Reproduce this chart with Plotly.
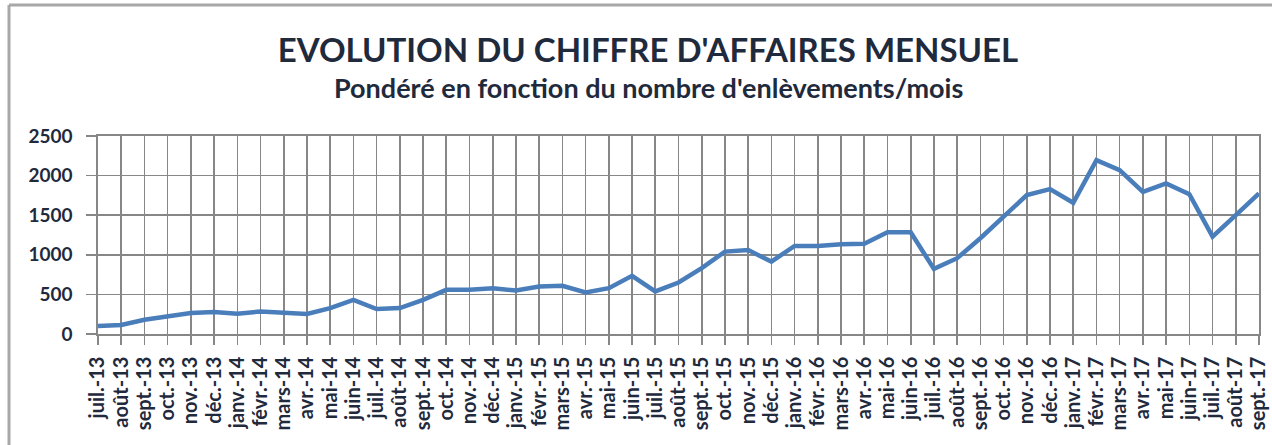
import plotly.graph_objects as go

months = ["juil.-13", "août-13", "sept.-13", "oct.-13", "nov.-13", "déc.-13",
          "janv.-14", "févr.-14", "mars-14", "avr.-14", "mai-14", "juin-14",
          "juil.-14", "août-14", "sept.-14", "oct.-14", "nov.-14", "déc.-14",
          "janv.-15", "févr.-15", "mars-15", "avr.-15", "mai-15", "juin-15",
          "juil.-15", "août-15", "sept.-15", "oct.-15", "nov.-15", "déc.-15",
          "janv.-16", "févr.-16", "mars-16", "avr.-16", "mai-16", "juin-16",
          "juil.-16", "août-16", "sept.-16", "oct.-16", "nov.-16", "déc.-16",
          "janv.-17", "févr.-17", "mars-17", "avr.-17", "mai-17", "juin-17",
          "juil.-17", "août-17", "sept.-17"]

ca_mensuel = [100, 115, 180, 222, 264, 277, 255, 285, 272, 252, 327, 432,
              315, 327, 432, 558, 558, 579, 549, 600, 608, 524, 579, 734,
              537, 650, 831, 1040, 1061, 914, 1112, 1112, 1133, 1140, 1284, 1284,
              822, 957, 1209, 1473, 1754, 1829, 1657, 2194, 2069, 1795, 1901, 1766,
              1229, 1502, 1775]

y_ticks = [0, 500, 1000, 1500, 2000, 2500]

W, H = 1272, 445
ML, MR, MT, MB = 98, 13, 136, 111
plot_w = W - ML - MR
plot_h = H - MT - MB

TXT = "#1f2a3c"
GRID = "#878787"
FONT = "Lato"

x_idx = list(range(len(months)))

fig = go.Figure()
fig.add_trace(go.Scatter(
    x=x_idx, y=ca_mensuel, mode="lines",
    line=dict(color="#4a7ebb", width=4.5),
    showlegend=False, hoverinfo="skip",
))

fig.update_layout(
    width=W, height=H,
    margin=dict(l=ML, r=MR, t=MT, b=MB, pad=0, autoexpand=False),
    paper_bgcolor="white", plot_bgcolor="white",
    font=dict(family=FONT, color=TXT),
    title=dict(
        text="<b>EVOLUTION DU CHIFFRE D'AFFAIRES MENSUEL</b>",
        x=648 / W, xref="container", xanchor="center",
        y=1 - 50 / H, yref="container", yanchor="middle",
        font=dict(family=FONT, size=33, color=TXT),
    ),
    annotations=[dict(
        text="<b>Pondéré en fonction du nombre d'enlèvements/mois</b>",
        xref="paper", yref="paper",
        x=(648 - ML) / plot_w, y=(H - MB - 87) / plot_h,
        xanchor="center", yanchor="middle", showarrow=False,
        font=dict(family=FONT, size=27, color=TXT),
    )],
    xaxis=dict(
        range=[0, len(months) - 1],
        tickmode="array", tickvals=x_idx, ticktext=months,
        tickangle=-90, automargin=False,
        showgrid=True, gridcolor=GRID, gridwidth=1.6,
        showline=True, linecolor=GRID, linewidth=1.6, mirror=True,
        ticks="outside", ticklen=9, tickcolor=GRID, tickwidth=1.6,
        tickfont=dict(family=FONT, size=20, color=TXT, weight="bold"),
        ticklabelstandoff=4,
        zeroline=False, fixedrange=True,
    ),
    yaxis=dict(
        range=[0, 2500], automargin=False,
        tickmode="array", tickvals=y_ticks,
        showgrid=True, gridcolor=GRID, gridwidth=1.6,
        showline=True, linecolor=GRID, linewidth=1.6, mirror=True,
        ticks="outside", ticklen=10, tickcolor=GRID, tickwidth=1.6,
        tickfont=dict(family=FONT, size=19, color=TXT, weight="bold"),
        ticklabelstandoff=10,
        zeroline=False, fixedrange=True,
    ),
    shapes=[
        dict(type="line", xref="paper", yref="paper",
             x0=(9 - ML) / plot_w, x1=(9 - ML) / plot_w,
             y0=(H - MB - 5) / plot_h, y1=(H - MB - H - 20) / plot_h,
             line=dict(color="#a8a8a8", width=3)),
        dict(type="line", xref="paper", yref="paper",
             x0=(9 - ML) / plot_w, x1=(W + 20 - ML) / plot_w,
             y0=(H - MB - 5) / plot_h, y1=(H - MB - 5) / plot_h,
             line=dict(color="#a8a8a8", width=3)),
    ],
)

fig.write_html(
    "out.html",
    config={"displayModeBar": False, "staticPlot": True},
    post_script="document.body.style.margin='0';document.body.style.overflow='hidden';",
)
